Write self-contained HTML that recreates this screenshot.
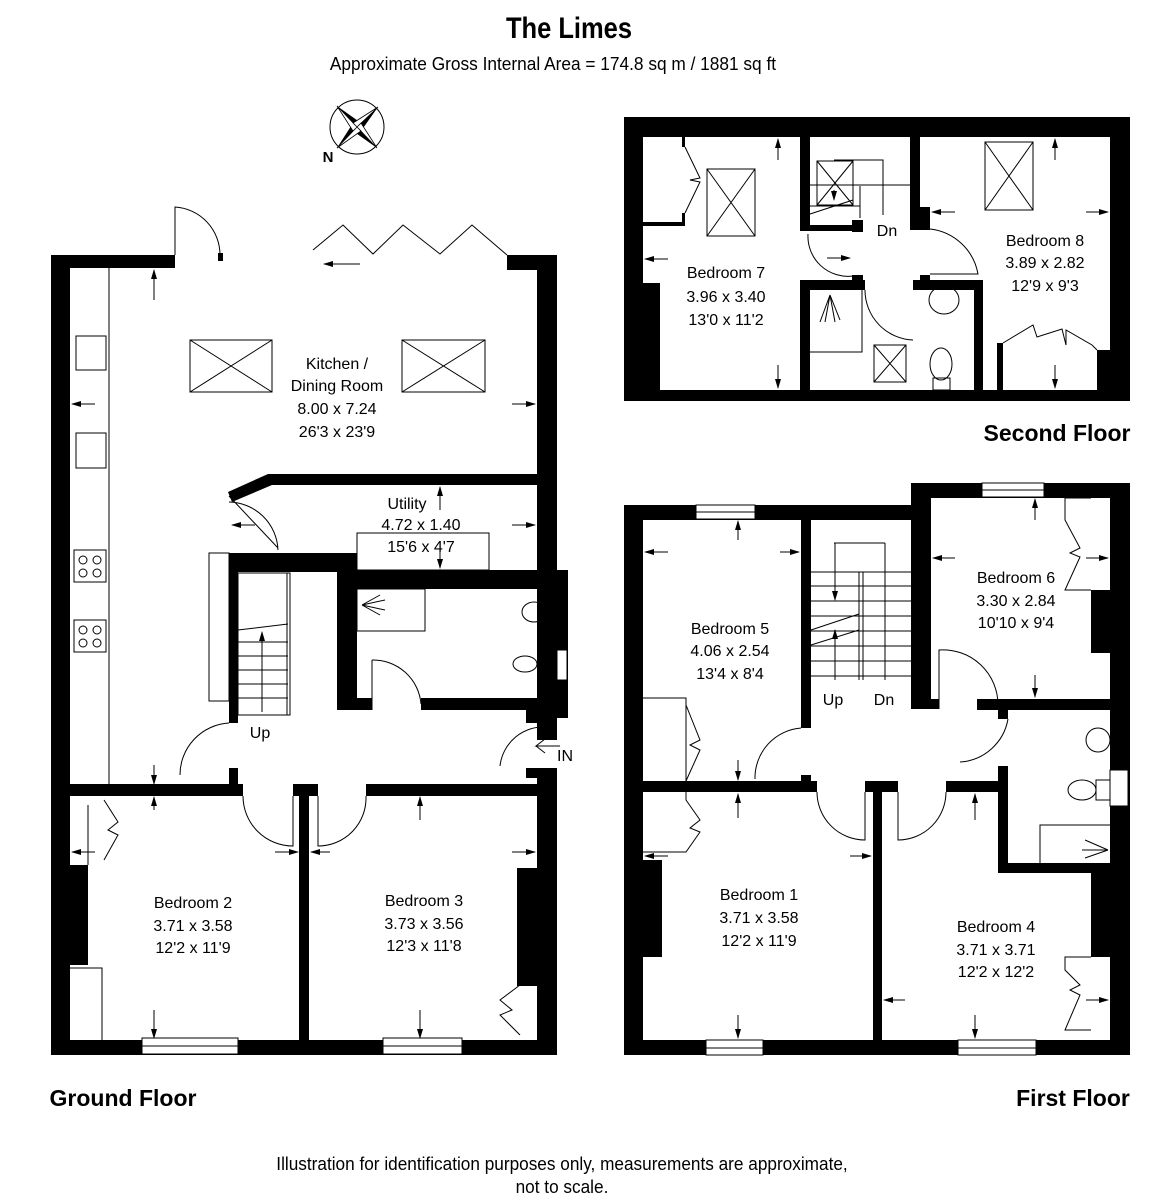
<!DOCTYPE html>
<html><head><meta charset="utf-8"><style>
html,body{margin:0;padding:0;background:#fff;}
svg{display:block;font-family:"Liberation Sans",Arial,sans-serif;}
.t{font-size:16px;text-anchor:middle;fill:#000;}
.b{font-weight:bold;}
.l{fill:none;stroke:#000;stroke-width:1;}
</style></head><body>
<svg width="1166" height="1200" viewBox="0 0 1166 1200" xmlns="http://www.w3.org/2000/svg">
<defs>
<marker id="a" markerWidth="10" markerHeight="8" refX="9" refY="4" orient="auto" markerUnits="userSpaceOnUse">
<path d="M0,1 L10,4 L0,7 z" fill="#000"/></marker>
</defs>

<!-- Title -->
<text x="569" y="38" style="font-size:30px;font-weight:bold;text-anchor:middle;transform-origin:569px 30px;transform:scaleX(0.85)">The Limes</text>
<text x="553" y="70" style="font-size:18.8px;text-anchor:middle;transform-origin:553px 64px;transform:scaleX(0.92)">Approximate Gross Internal Area  = 174.8 sq m / 1881 sq ft</text>

<!-- compass -->
<circle cx="357" cy="127" r="27" class="l"/>
<path d="M357,127 L337,106 L361,123 z M357,127 L378,107 L361,131 z M357,127 L377,148 L353,131 z M357,127 L337,148 L353,123 z" fill="#000"/>
<path d="M357,127 L337,106 L353,131 z M357,127 L378,107 L353,123 z M357,127 L377,148 L361,123 z M357,127 L337,148 L361,131 z" fill="#fff" stroke="#000" stroke-width="0.8"/>
<text x="328" y="162" style="font-size:15px;font-weight:bold;text-anchor:middle">N</text>

<!-- ================= GROUND FLOOR ================= -->
<g fill="#000">
<rect x="51" y="255" width="19" height="800"/>
<rect x="51" y="255" width="124" height="13"/>
<rect x="218" y="253" width="5" height="8"/>
<rect x="507" y="255" width="50" height="15"/>
<rect x="537" y="255" width="20" height="485"/>
<rect x="537" y="570" width="31" height="148"/>
<rect x="526" y="710" width="21" height="13"/>
<rect x="537" y="768" width="20" height="287"/>
<rect x="526" y="768" width="21" height="10"/>
<rect x="51" y="1040" width="506" height="15"/>
<rect x="51" y="784" width="192" height="12"/>
<rect x="293" y="784" width="25" height="12"/>
<rect x="366" y="784" width="191" height="12"/>
<rect x="299" y="784" width="10" height="271"/>
<rect x="70" y="865" width="18" height="100"/>
<rect x="517" y="868" width="20" height="118"/>
<polygon points="228,492 268,474 540,474 540,485 272,485 232,502"/>
<rect x="229" y="553" width="9" height="170"/>
<rect x="229" y="768" width="9" height="17"/>
<rect x="229" y="553" width="128" height="19"/>
<rect x="337" y="553" width="20" height="157"/>
<rect x="337" y="570" width="231" height="19"/>
<rect x="337" y="698" width="35" height="12"/>
<rect x="421" y="698" width="126" height="12"/>
</g>
<!-- GF windows -->
<rect x="142" y="1038" width="96" height="16" fill="#fff" stroke="#000"/>
<line x1="142" y1="1046" x2="238" y2="1046" class="l"/>
<rect x="383" y="1038" width="79" height="16" fill="#fff" stroke="#000"/>
<line x1="383" y1="1046" x2="462" y2="1046" class="l"/>
<rect x="557" y="650" width="10" height="30" fill="#fff" stroke="#000"/>
<!-- GF kitchen fittings -->
<line x1="109" y1="268" x2="109" y2="784" class="l"/>
<rect x="76" y="336" width="30" height="34" class="l"/>
<rect x="76" y="433" width="30" height="35" class="l"/>
<rect x="74" y="550" width="32" height="32" class="l"/>
<rect x="74" y="620" width="32" height="32" class="l"/>
<g class="l"><circle cx="83" cy="560" r="4"/><circle cx="97" cy="560" r="4"/><circle cx="83" cy="573" r="4"/><circle cx="97" cy="573" r="4"/>
<circle cx="83" cy="630" r="4"/><circle cx="97" cy="630" r="4"/><circle cx="83" cy="643" r="4"/><circle cx="97" cy="643" r="4"/></g>
<g class="l">
<rect x="190" y="340" width="82" height="52"/><path d="M190,340 L272,392 M272,340 L190,392"/>
<rect x="402" y="340" width="83" height="52"/><path d="M402,340 L485,392 M485,340 L402,392"/>
<path d="M313,250 L343,225 L373,254 L403,225 L440,254 L472,225 L507,255"/>
<path d="M175,255 L175,207 A48,48 0 0 1 220,255"/>
<rect x="238" y="573" width="52" height="142"/>
<path d="M238,630 L288,624 M238,642 L288,642 M238,656 L288,656 M238,670 L288,670 M238,684 L288,684 M238,698 L288,698 M287,573 L287,715"/>
<rect x="209" y="553" width="20" height="148"/>
<rect x="357" y="533" width="132" height="37"/>
<rect x="357" y="589" width="68" height="42"/>
<ellipse cx="534" cy="612" rx="12" ry="10"/>
<ellipse cx="525" cy="664" rx="12" ry="8"/>
<rect x="538" y="654" width="12" height="18"/>
<path d="M362,605 L385,600 M362,605 L385,610 M362,605 L380,615 M362,605 L380,595"/>
<path d="M229,496 L278,548 M229,502 A50,50 0 0 1 278,550"/>
<path d="M372,660 L372,710 M372,660 A48,48 0 0 1 421,704"/>
<path d="M229,723 A52,52 0 0 0 180,775"/>
<path d="M243,796 A50,50 0 0 0 293,846 L293,796"/>
<path d="M366,796 A48,48 0 0 1 318,846 L318,796"/>
<path d="M547,727 A44,44 0 0 0 500,766"/>
<path d="M560,746 L536,746 L545,739 M536,746 L545,753"/>
<path d="M88,805 L88,865 M104,800 L118,822 L108,830 L118,835 L104,860"/>
<path d="M70,968 L102,968 L102,1040"/>
<path d="M537,985 L517,985 M520,985 L500,1000 L512,1010 L500,1015 L520,1035"/>
</g>
<g stroke="#000" stroke-width="1" marker-end="url(#a)">
<line x1="154" y1="300" x2="154" y2="270"/><line x1="360" y1="264" x2="324" y2="264"/>
<line x1="95" y1="404" x2="72" y2="404"/><line x1="512" y1="404" x2="535" y2="404"/>
<line x1="154" y1="765" x2="154" y2="784"/><line x1="154" y1="810" x2="154" y2="797"/>
<line x1="154" y1="1010" x2="154" y2="1038"/><line x1="95" y1="852" x2="72" y2="852"/>
<line x1="275" y1="852" x2="298" y2="852"/><line x1="330" y1="852" x2="311" y2="852"/>
<line x1="512" y1="852" x2="535" y2="852"/><line x1="420" y1="820" x2="420" y2="797"/>
<line x1="420" y1="1010" x2="420" y2="1038"/><line x1="440" y1="510" x2="440" y2="487"/>
<line x1="440" y1="548" x2="440" y2="568"/><line x1="512" y1="525" x2="535" y2="525"/>
<line x1="255" y1="525" x2="232" y2="525"/><line x1="262" y1="712" x2="262" y2="632"/>
</g>
<text class="t" x="337" y="369">Kitchen /</text>
<text class="t" x="337" y="391">Dining Room</text>
<text class="t" x="337" y="414">8.00 x 7.24</text>
<text class="t" x="337" y="437">26'3 x 23'9</text>
<text class="t" x="407" y="509">Utility</text>
<text class="t" x="421" y="530">4.72 x 1.40</text>
<text class="t" x="421" y="552">15'6 x 4'7</text>
<text class="t" x="260" y="738">Up</text>
<text class="t" x="565" y="761">IN</text>
<text class="t" x="193" y="908">Bedroom 2</text>
<text class="t" x="193" y="931">3.71 x 3.58</text>
<text class="t" x="193" y="953">12'2 x 11'9</text>
<text class="t" x="424" y="906">Bedroom 3</text>
<text class="t" x="424" y="929">3.73 x 3.56</text>
<text class="t" x="424" y="951">12'3 x 11'8</text>
<text x="123" y="1106" style="font-size:23px;font-weight:bold;text-anchor:middle">Ground Floor</text>

<!-- ================= SECOND FLOOR ================= -->
<g fill="#000">
<rect x="624" y="117" width="506" height="20"/>
<rect x="624" y="117" width="19" height="284"/>
<rect x="1110" y="117" width="20" height="284"/>
<rect x="624" y="390" width="506" height="11"/>
<rect x="643" y="283" width="17" height="107"/>
<rect x="1097" y="350" width="13" height="40"/>
<rect x="800" y="137" width="10" height="93"/>
<rect x="800" y="225" width="62" height="6"/>
<rect x="852" y="220" width="11" height="12"/>
<rect x="910" y="137" width="10" height="93"/>
<rect x="920" y="207" width="10" height="23"/>
<rect x="800" y="280" width="10" height="110"/>
<rect x="800" y="280" width="65" height="10"/>
<rect x="852" y="275" width="11" height="15"/>
<rect x="913" y="280" width="70" height="10"/>
<rect x="920" y="275" width="10" height="15"/>
<rect x="974" y="280" width="9" height="110"/>
<rect x="997" y="343" width="6" height="47"/>
<rect x="643" y="222" width="42" height="4"/>
<rect x="682" y="137" width="3" height="10"/>
<rect x="682" y="213" width="3" height="12"/>
</g>
<g class="l">
<rect x="707" y="169" width="48" height="67"/><path d="M707,169 L755,236 M755,169 L707,236"/>
<rect x="985" y="142" width="48" height="68"/><path d="M985,142 L1033,210 M1033,142 L985,210"/>
<rect x="817" y="161" width="36" height="44"/><path d="M817,161 L853,205 M853,161 L817,205"/>
<path d="M834,160 L883,160 L883,215 M810,185 L910,185 M810,206 L860,206 M810,214 L853,200 M860,186 L860,218"/>
<rect x="874" y="345" width="32" height="37"/><path d="M874,345 L906,382 M906,345 L874,382"/>
<ellipse cx="944" cy="300" rx="15" ry="14"/>
<ellipse cx="941" cy="364" rx="11" ry="16"/><rect x="933" y="378" width="17" height="12"/>
<path d="M810,352 L862,352 L862,290 M830,295 L820,322 M830,295 L840,320 M830,295 L825,322 M830,295 L835,322"/>
<path d="M685,147 L700,178 L690,180 L700,182 L685,213"/>
<path d="M808,234 A40,40 0 0 0 853,276"/>
<path d="M930,229 A55,55 0 0 1 978,274 L930,274"/>
<path d="M865,290 A50,50 0 0 0 913,340"/>
<path d="M1003,343 L1033,325 L1037,337 L1062,329 L1066,345 L1066,330 L1092,345 L1097,350"/>
</g>
<g stroke="#000" stroke-width="1" marker-end="url(#a)">
<line x1="778" y1="160" x2="778" y2="139"/><line x1="778" y1="365" x2="778" y2="388"/>
<line x1="668" y1="259" x2="645" y2="259"/><line x1="827" y1="258" x2="850" y2="258"/>
<line x1="955" y1="212" x2="932" y2="212"/><line x1="1086" y1="212" x2="1108" y2="212"/>
<line x1="1055" y1="160" x2="1055" y2="139"/><line x1="1055" y1="365" x2="1055" y2="388"/>
<line x1="834" y1="190" x2="834" y2="200"/>
</g>
<text class="t" x="726" y="278">Bedroom 7</text>
<text class="t" x="726" y="302">3.96 x 3.40</text>
<text class="t" x="726" y="325">13'0 x 11'2</text>
<text class="t" x="887" y="236">Dn</text>
<text class="t" x="1045" y="246">Bedroom 8</text>
<text class="t" x="1045" y="268">3.89 x 2.82</text>
<text class="t" x="1045" y="291">12'9 x 9'3</text>
<text x="1057" y="441" style="font-size:23px;font-weight:bold;text-anchor:middle">Second Floor</text>

<!-- ================= FIRST FLOOR ================= -->
<g fill="#000">
<rect x="624" y="505" width="307" height="15"/>
<rect x="911" y="483" width="219" height="15"/>
<rect x="624" y="505" width="19" height="550"/>
<rect x="1110" y="483" width="20" height="572"/>
<rect x="624" y="1040" width="506" height="15"/>
<rect x="801" y="520" width="10" height="208"/>
<rect x="801" y="775" width="10" height="17"/>
<rect x="911" y="483" width="20" height="226"/>
<rect x="931" y="699" width="8" height="10"/>
<rect x="643" y="781" width="174" height="11"/>
<rect x="865" y="781" width="33" height="11"/>
<rect x="873" y="781" width="9" height="274"/>
<rect x="946" y="781" width="62" height="11"/>
<rect x="977" y="699" width="133" height="11"/>
<rect x="998" y="699" width="10" height="20"/>
<rect x="998" y="766" width="10" height="107"/>
<rect x="998" y="863" width="112" height="10"/>
<rect x="1091" y="863" width="19" height="94"/>
<rect x="1091" y="590" width="19" height="63"/>
<rect x="643" y="860" width="19" height="97"/>
</g>
<rect x="696" y="505" width="59" height="14" fill="#fff" stroke="#000"/>
<rect x="982" y="483" width="62" height="14" fill="#fff" stroke="#000"/>
<rect x="706" y="1040" width="57" height="15" fill="#fff" stroke="#000"/>
<rect x="958" y="1040" width="78" height="15" fill="#fff" stroke="#000"/>
<rect x="1110" y="770" width="18" height="36" fill="#fff" stroke="#000"/>
<g class="l">
<path d="M696,512 L755,512 M982,490 L1044,490 M706,1048 L763,1048 M958,1048 L1036,1048"/>
<path d="M811,572 L911,572 M811,586 L911,586 M811,601 L911,601 M811,616 L911,616 M811,631 L911,631 M811,646 L911,646 M811,661 L911,661 M811,676 L911,676"/>
<path d="M859,572 L859,680 M863,572 L863,680 M885,543 L885,680 M834,543 L885,543 M811,630 L859,614 M811,645 L859,630"/>
<path d="M643,698 L686,698 L686,781 M686,705 L700,740 L690,745 L700,750 L686,781"/>
<path d="M686,792 L686,800 L700,820 L690,828 L700,832 L686,852 L643,852"/>
<path d="M1065,498 L1065,520 L1080,548 L1070,553 L1080,557 L1065,590 L1091,590 M1065,498 L1091,498"/>
<path d="M1091,957 L1065,957 L1065,970 L1080,985 L1070,990 L1080,995 L1065,1030 L1091,1030"/>
<path d="M801,728 A50,50 0 0 0 755,779"/>
<path d="M817,792 A48,48 0 0 0 865,840 L865,792"/>
<path d="M946,792 A48,48 0 0 1 898,840 L898,792"/>
<path d="M939,709 L939,650 A55,55 0 0 1 998,705"/>
<path d="M1008,719 A52,52 0 0 1 960,762"/>
<ellipse cx="1098" cy="740" rx="12" ry="12"/>
<ellipse cx="1082" cy="790" rx="14" ry="10"/><rect x="1096" y="780" width="14" height="20"/>
<path d="M1040,863 L1040,825 L1110,825 M1108,850 L1085,840 M1108,850 L1085,858 M1108,850 L1082,850"/>
</g>
<g stroke="#000" stroke-width="1" marker-end="url(#a)">
<line x1="738" y1="540" x2="738" y2="521"/><line x1="668" y1="552" x2="645" y2="552"/>
<line x1="780" y1="552" x2="799" y2="552"/><line x1="738" y1="760" x2="738" y2="780"/>
<line x1="738" y1="818" x2="738" y2="794"/><line x1="738" y1="1015" x2="738" y2="1038"/>
<line x1="668" y1="856" x2="645" y2="856"/><line x1="850" y1="856" x2="871" y2="856"/>
<line x1="975" y1="820" x2="975" y2="794"/><line x1="975" y1="1015" x2="975" y2="1038"/>
<line x1="905" y1="1000" x2="884" y2="1000"/><line x1="1086" y1="1000" x2="1108" y2="1000"/>
<line x1="1035" y1="520" x2="1035" y2="499"/><line x1="1035" y1="675" x2="1035" y2="697"/>
<line x1="955" y1="558" x2="933" y2="558"/><line x1="1086" y1="558" x2="1108" y2="558"/>
<line x1="835" y1="680" x2="835" y2="630"/><line x1="835" y1="543" x2="835" y2="600"/>
</g>
<text class="t" x="730" y="634">Bedroom 5</text>
<text class="t" x="730" y="656">4.06 x 2.54</text>
<text class="t" x="730" y="679">13'4 x 8'4</text>
<text class="t" x="1016" y="583">Bedroom 6</text>
<text class="t" x="1016" y="606">3.30 x 2.84</text>
<text class="t" x="1016" y="628">10'10 x 9'4</text>
<text class="t" x="833" y="705">Up</text>
<text class="t" x="884" y="705">Dn</text>
<text class="t" x="759" y="900">Bedroom 1</text>
<text class="t" x="759" y="923">3.71 x 3.58</text>
<text class="t" x="759" y="946">12'2 x 11'9</text>
<text class="t" x="996" y="932">Bedroom 4</text>
<text class="t" x="996" y="955">3.71 x 3.71</text>
<text class="t" x="996" y="977">12'2 x 12'2</text>
<text x="1073" y="1106" style="font-size:23px;font-weight:bold;text-anchor:middle">First Floor</text>

<text x="562" y="1170" style="font-size:18.5px;text-anchor:middle;transform-origin:562px 1164px;transform:scaleX(0.93)">Illustration for identification purposes only, measurements are approximate,</text>
<text x="562" y="1193" style="font-size:18.5px;text-anchor:middle;transform-origin:562px 1187px;transform:scaleX(0.93)">not to scale.</text>
</svg>
</body></html>
